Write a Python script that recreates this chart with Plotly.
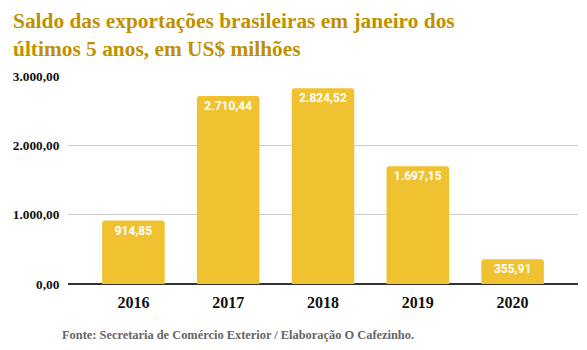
import plotly.graph_objects as go

years = ["2016", "2017", "2018", "2019", "2020"]
values = [914.85, 2710.44, 2824.52, 1697.15, 355.91]
labels = ["914,85", "2.710,44", "2.824,52", "1.697,15", "355,91"]
yticks = [0, 1000, 2000, 3000]
yticklabels = ["0,00", "1.000,00", "2.000,00", "3.000,00"]

W, H = 587, 350
ML, MR, MT, MB = 68, 9, 76, 66
PW, PH = W - ML - MR, H - MT - MB

def px_x(x):
    return (x - ML) / PW

def px_y(y):
    return (H - MB - y) / PH

fig = go.Figure(go.Bar(
    x=years, y=values, text=labels,
    textposition="inside", insidetextanchor="end", textangle=0,
    constraintext="none",
    textfont=dict(family="Roboto", size=12, color="white", weight="bold"),
    marker=dict(color="#F0C131", line=dict(width=0)),
    width=0.66, hoverinfo="skip",
))

fig.update_layout(
    width=W, height=H,
    margin=dict(l=ML, r=MR, t=MT, b=MB),
    paper_bgcolor="white", plot_bgcolor="white",
    barcornerradius=3,
    showlegend=False,
    xaxis=dict(
        range=[-0.69, 4.69], showgrid=False, showline=False,
        ticks="outside", ticklen=4, tickcolor="rgba(0,0,0,0)",
        tickfont=dict(family="Liberation Serif", size=16, color="#111", weight="bold"),
    ),
    yaxis=dict(
        range=[0, 3000], tickvals=yticks, ticktext=yticklabels,
        showgrid=True, gridcolor="#CCCCCC", gridwidth=1,
        zeroline=True, zerolinecolor="#333333", zerolinewidth=1.5,
        showline=False, ticks="outside", ticklen=5, tickcolor="rgba(0,0,0,0)",
        tickfont=dict(family="Liberation Serif", size=13.3, color="#111", weight="bold"),
    ),
    annotations=[
        dict(
            text="Saldo das exportações brasileiras em janeiro dos<br>últimos 5 anos, em US$ milhões",
            x=px_x(11), xref="paper", xanchor="left", align="left",
            y=px_y(7), yref="paper", yanchor="top", showarrow=False,
            font=dict(family="Liberation Serif", size=21.4, color="#BF9000", weight="bold"),
        ),
        dict(
            text="Fonte: Secretaria de Comércio Exterior / Elaboração O Cafezinho.",
            x=px_x(60), xref="paper", xanchor="left",
            y=px_y(335), yref="paper", yanchor="middle", showarrow=False,
            font=dict(family="Liberation Serif", size=12.4, color="#666666", weight="bold"),
        ),
    ],
)

fig.write_html("out.html")
